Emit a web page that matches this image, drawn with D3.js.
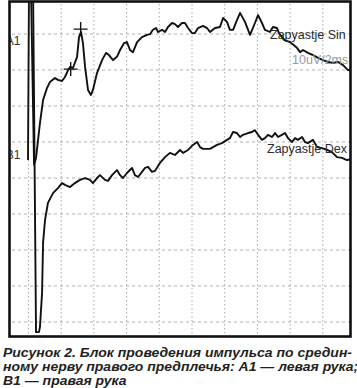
<!DOCTYPE html>
<html><head><meta charset="utf-8">
<script src="https://cdn.jsdelivr.net/npm/d3@7"></script>
<style>html,body{margin:0;padding:0;background:#fff;}svg{display:block;}</style>
</head><body>
<script>
// ---- data (time in ms, amplitude in µV relative to channel baseline) ----
const a1Time = [0.15,0.34,0.46,0.70,0.89,1.13,1.31,1.62,1.80,2.05,2.23,2.42,2.54,2.72,2.97,3.09,3.21,3.33,3.46,3.64,3.82,3.94,4.19,4.50,4.74,4.92,5.17,5.41,5.60,5.84,6.02,6.21,6.39,6.64,6.94,7.25,7.43,7.61,7.80,7.92,8.17,8.35,8.53,8.78,8.96,9.14,9.39,9.57,9.76,10.0,10.18,10.37,10.67,10.92,11.10,11.41,11.71,11.90,12.14,12.32,12.51,12.75,12.94,13.24,13.55,13.85,14.04,14.28,14.46,14.77,14.95,15.20,15.32,15.63,15.99,16.42,16.61,16.79,17.09,17.40,17.71,18.01,18.32,18.62,18.93,19.24,19.54,19.79];
const a1Amp  = [15,-34.4,-32.5,-22.8,-16.4,-13.1,-11.4,-10.3,-10.8,-11.1,-10.0,-8.1,-7.2,-7.5,-4.4,1.1,2.5,-0.6,-7.2,-13.6,-15.0,-13.6,-8.9,-5.3,-3.3,-3.9,-5.3,-4.4,-2.5,-0.6,-0.3,-2.5,-3.1,-0.3,1.1,1.7,1.9,3.1,3.6,2.5,3.1,2.5,3.9,5.0,4.7,3.9,5.0,5.0,3.6,2.2,2.2,3.6,4.2,3.6,2.5,3.6,3.9,6.4,5.3,3.1,3.1,5.8,7.8,5.3,1.7,5.0,7.2,5.0,3.1,2.5,3.9,3.6,2.2,0.3,-0.3,-1.9,-3.1,-2.5,-3.3,-3.9,-4.7,-5.3,-5.8,-6.1,-5.8,-6.7,-8.1,-7.8];
const b1Time = [-0.03,0.03,0.28,0.46,0.64,0.70,0.83,0.89,1.01,1.19,1.50,1.80,2.05,2.23,2.54,2.84,3.15,3.46,3.76,3.94,4.19,4.37,4.68,4.86,5.11,5.41,5.60,5.78,6.02,6.33,6.51,6.70,6.94,7.13,7.31,7.55,7.74,8.04,8.35,8.65,8.96,9.27,9.45,9.76,10.06,10.31,10.49,10.67,11.10,11.53,11.83,12.14,12.32,12.51,12.75,12.94,13.12,13.43,13.67,13.85,14.04,14.28,14.46,14.65,14.89,15.08,15.26,15.50,15.69,15.87,16.12,16.30,16.48,16.73,16.91,17.09,17.40,17.65,17.95,18.26,18.56,18.87,19.17,19.48,19.79];
const b1Amp  = [-1.4,46,46,-49.2,-49.2,-47.8,-38.3,-24.4,-18.1,-13.3,-10.6,-9.2,-7.8,-8.3,-8.9,-7.8,-6.9,-6.4,-6.9,-7.8,-6.4,-5.6,-6.9,-7.2,-5.6,-4.2,-5.6,-6.4,-5.0,-3.6,-5.6,-6.1,-4.7,-3.6,-3.3,-4.7,-4.4,-2.2,-0.6,0.6,0.0,1.4,0.6,1.4,2.8,3.6,2.2,1.7,1.7,2.8,3.3,4.2,4.7,6.4,6.1,5.0,5.6,6.1,6.4,6.9,5.6,4.2,4.7,5.6,5.0,6.1,5.0,5.6,6.1,4.7,3.6,4.7,4.2,5.0,3.6,3.3,4.2,2.2,1.9,1.4,0.8,-0.6,-0.8,-1.4,-1.1];
const markerTime = [2.58, 3.19];
const markerAmp  = [-7.8, 3.3];
const channelLabels = ["A1", "B1"];
const traceNames = ["Zapyastje Sin", "Zapyastje Dex"];
const scaleLabel = "10uV/2ms";
const timeTicks = [0,2,4,6,8,10,12,14,16,18];
const divTicks = [1,2,3,4,5,6,7,8,9];
const captionLines = [
  "Рисунок 2. Блок проведения импульса по средин-",
  "ному нерву правого предплечья: A1 — левая рука;",
  "B1 — правая рука"
];

// ---- layout ----
const W = 357, H = 388;
const frame = {x: 9.5, y: 1.5, w: 341, h: 335};
const svg = d3.select("body").append("svg").attr("width", W).attr("height", H);

const x = d3.scaleLinear().domain([0, 20]).range([28.5, 355.5]);
const yDiv = d3.scaleLinear().domain([0, 9]).range([-2, 322]);
const yA = d3.scaleLinear().domain([0, -10]).range([41, 77]);
const yB = d3.scaleLinear().domain([0, -10]).range([155, 191]);

svg.append("defs").append("clipPath").attr("id", "plot")
  .append("rect").attr("x", frame.x).attr("y", frame.y).attr("width", frame.w).attr("height", frame.h);

const plot = svg.append("g").attr("clip-path", "url(#plot)");

// grid
plot.selectAll("line.v").data(timeTicks).join("line")
  .attr("x1", d => x(d)).attr("x2", d => x(d)).attr("y1", 0).attr("y2", 340)
  .attr("stroke", "#a8a8a8").attr("stroke-width", 1).attr("stroke-dasharray", "1.5,2.5");
plot.selectAll("line.h").data(divTicks).join("line")
  .attr("y1", d => yDiv(d)).attr("y2", d => yDiv(d)).attr("x1", 0).attr("x2", W)
  .attr("stroke", "#b0b0b0").attr("stroke-width", 1).attr("stroke-dasharray", "3,3");

const font = "Liberation Sans, Arial, sans-serif";

// channel labels
plot.selectAll("text.ch").data(channelLabels).join("text")
  .attr("x", 20.5).attr("y", (d, i) => i === 0 ? yA(0) + 4 : yB(0) + 4)
  .attr("text-anchor", "end").attr("font-family", font)
  .attr("font-size", 12).attr("fill", "#333").text(d => d);

// traces
const lineA = d3.line().x((d, i) => x(a1Time[i])).y(d => yA(d));
const lineB = d3.line().x((d, i) => x(b1Time[i])).y(d => yB(d));
plot.append("path").attr("d", lineA(a1Amp)).attr("fill", "none").attr("stroke", "#111")
  .attr("stroke-width", 1.9).attr("stroke-linejoin", "round");
plot.append("path").attr("d", lineB(b1Amp)).attr("fill", "none").attr("stroke", "#111")
  .attr("stroke-width", 1.9).attr("stroke-linejoin", "round");

// markers
markerTime.forEach((t, i) => {
  const cx = x(t), cy = yA(markerAmp[i]), r = 7;
  plot.append("path").attr("d", `M${cx - r},${cy}H${cx + r}M${cx},${cy - r}V${cy + r}`)
    .attr("stroke", "#111").attr("stroke-width", 1.4);
});

// trace names and scale
svg.append("text").attr("x", 270).attr("y", yA(0) - 2).attr("font-family", font)
  .attr("font-size", 12.5).attr("fill", "#2a2a2a").text(traceNames[0]);
svg.append("text").attr("x", 292).attr("y", yA(-6.4)).attr("font-family", font)
  .attr("font-size", 12.5).attr("fill", "#9a9a9a").text(scaleLabel);
svg.append("text").attr("x", 267).attr("y", yB(0) - 2).attr("font-family", font)
  .attr("font-size", 12.5).attr("fill", "#2a2a2a").text(traceNames[1]);

// frame
svg.append("rect").attr("x", frame.x).attr("y", frame.y).attr("width", frame.w).attr("height", frame.h)
  .attr("fill", "none").attr("stroke", "#111").attr("stroke-width", 2.6);

// caption
const cap = svg.append("g");
const baselines = [357, 370.8, 384.5];
const capText = cap.selectAll("text").data(captionLines).join("text")
  .attr("x", 3).attr("y", (d, i) => baselines[i])
  .attr("font-family", font).attr("font-size", 13.5).attr("font-weight", "bold")
  .attr("font-style", "italic").attr("fill", "#231f20").text(d => d);
const w0 = capText.nodes()[0].getComputedTextLength();
const k = 349 / w0;
capText.each(function () {
  const n = this.getComputedTextLength();
  d3.select(this).attr("textLength", n * k).attr("lengthAdjust", "spacingAndGlyphs");
});
</script>
</body></html>
